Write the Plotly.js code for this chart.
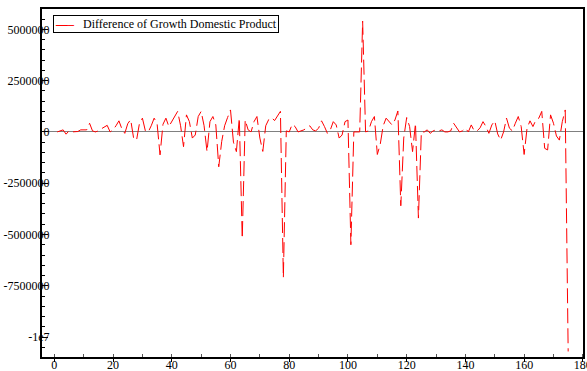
<!DOCTYPE html>
<html>
<head>
<meta charset="utf-8">
<script src="https://cdn.plot.ly/plotly-3.0.1.min.js"></script>
<style>
html,body{margin:0;padding:0;background:#fff;}
#chart{width:587px;height:371px;}
</style>
</head>
<body>
<div id="chart"></div>
<script>
// Series name
var seriesName = "Difference of Growth Domestic Product";

// Difference of GDP, periods 1..175
var gdpDiff = [
  0, 50000, 100000, -110000, 50000, 0, 0, 20000, 100000, 100000,
  100000, 420000, 50000, 0, 50000, 150000, 220000, 320000, 0, 100000,
  300000, 540000, 150000, -70000, 400000, 600000, -300000, -400000, 420000, 670000,
  50000, 0, 300000, 670000, 400000, -1120000, 370000, 670000, 260000, 500000,
  800000, 1000000, 300000, -720000, 830000, 500000, -300000, -150000, 750000, 1000000,
  300000, -960000, 500000, 750000, 340000, -1700000, -470000, 300000, 700000, 1070000,
  -500000, -960000, 670000, -5200000, 580000, 100000, 0, 500000, 750000, -300000,
  -950000, 300000, 600000, 700000, 550000, 750000, 1000000, -7100000, 50000, 0,
  370000, 260000, 0, 50000, 100000, 200000, 300000, 100000, 50000, 180000,
  540000, 260000, -70000, 100000, 500000, 340000, -300000, -150000, 500000, 580000,
  -5500000, 0, 0, 0, 5400000, 0, 50000, 500000, 750000, -1100000,
  -600000, 300000, 670000, 500000, 340000, 580000, 1020000, -3600000, -300000, 700000,
  260000, -960000, 420000, -4200000, 0, 0, 100000, -70000, 50000, 100000,
  50000, 100000, 0, 0, 50000, 420000, 180000, 0, 50000, 180000,
  0, 340000, 50000, 50000, 200000, 500000, 260000, -70000, 340000, 540000,
  -100000, -400000, 0, 670000, 180000, 50000, 420000, 750000, 260000, -1100000,
  180000, 540000, 260000, 580000, 670000, 1000000, -800000, -880000, 830000, 420000,
  -200000, -400000, 500000, 1070000, -10700000
];

// Period index (x)
var periods = gdpDiff.map(function (_, i) { return i + 1; });

// Axis ticks
var yTickVals = [5000000, 2500000, 0, -2500000, -5000000, -7500000, -10000000];
var yTickText = ["5000000", "2500000", "0", "-2500000", "-5000000", "-7500000", "-1e7"];
var xTickVals = [0, 20, 40, 60, 80, 100, 120, 140, 160, 180];

var serif = "Liberation Serif";
var NB = "\u00a0";
var legendSample = "\u2014\u2013";

var traces = [
  {
    x: periods,
    y: gdpDiff,
    type: "scatter",
    mode: "lines",
    name: seriesName,
    showlegend: false,
    line: { color: "rgb(255,0,0)", width: 1, dash: "15px,5px" }
  }
];

var legendText = "<span style='color:rgb(255,0,0);font-weight:bold'>" + legendSample + "</span>" + NB + NB + NB + seriesName;

var layout = {
  width: 587,
  height: 371,
  margin: { l: 42, r: 4, t: 9, b: 14, pad: 0 },
  paper_bgcolor: "#ffffff",
  plot_bgcolor: "#ffffff",
  font: { family: serif, size: 12, color: "#000" },
  showlegend: false,
  annotations: [
    {
      xref: "paper", yref: "paper", x: 0.0203, y: 0.983,
      xanchor: "left", yanchor: "top",
      text: legendText, showarrow: false,
      font: { family: serif, size: 12, color: "#000" },
      bgcolor: "#ffffff", bordercolor: "#000", borderwidth: 1, borderpad: 1
    }
  ],
  xaxis: {
    range: [-4.2, 180.05],
    tickvals: xTickVals,
    ticks: "outside", ticklen: 3, tickwidth: 1, tickcolor: "#000",
    minor: { dtick: 10, tick0: 0, ticks: "inside", ticklen: 3, tickcolor: "#555", showgrid: false },
    showline: true, linecolor: "#000", linewidth: 2, mirror: true,
    showgrid: false, zeroline: false,
    ticklabelstandoff: -7,
    ticklabeloverflow: "allow",
    tickfont: { family: serif, size: 12, color: "#000" }
  },
  yaxis: {
    range: [-10970000, 5990000],
    tickvals: yTickVals,
    ticktext: yTickText,
    ticks: "inside", ticklen: 6, tickwidth: 1, tickcolor: "#000",
    minor: { dtick: 500000, tick0: 0, ticks: "inside", ticklen: 3, tickcolor: "#000", showgrid: false },
    showline: true, linecolor: "#000", linewidth: 2, mirror: true,
    showgrid: false,
    zeroline: true, zerolinecolor: "#808080", zerolinewidth: 1,
    ticklabelstandoff: -12,
    ticklabeloverflow: "allow",
    tickfont: { family: serif, size: 12, color: "#000" }
  }
};

Plotly.newPlot("chart", traces, layout, { displayModeBar: false, staticPlot: true });
</script>
</body>
</html>
